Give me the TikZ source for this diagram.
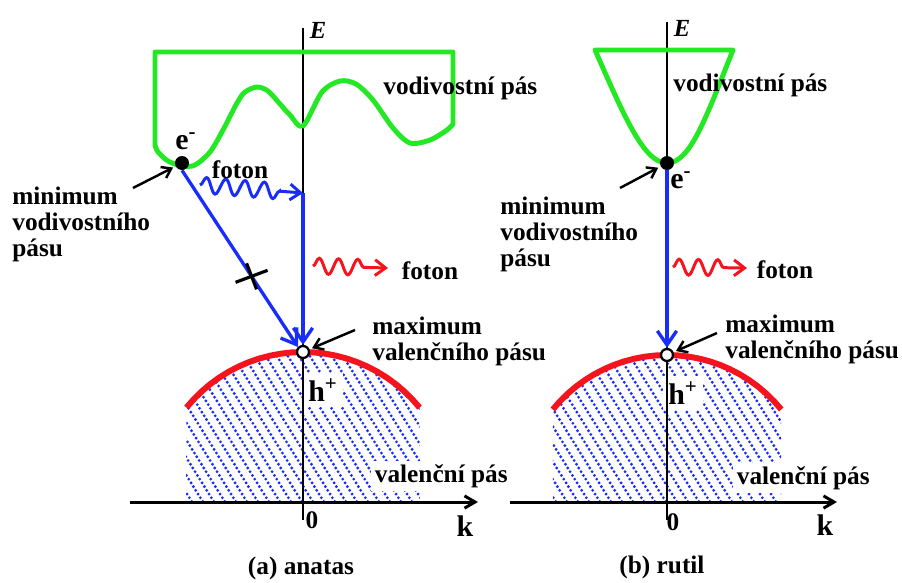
\documentclass[tikz,border=0pt]{standalone}
\usepackage{fontspec}
\setmainfont{Liberation Serif}
\usepackage{tikz}
\usetikzlibrary{arrows.meta,calc,decorations.pathmorphing}

\definecolor{bandgreen}{RGB}{35,232,35}
\definecolor{trblue}{RGB}{25,45,250}
\definecolor{vbred}{RGB}{245,20,30}

\begin{document}
\begin{tikzpicture}[
    x=0.02cm, y=-0.02cm,
    lbl/.style={font=\fontsize{14.4}{14.8}\selectfont\bfseries, inner sep=0pt},
    txt/.style={lbl, align=left, anchor=west},
    big/.style={font=\fontsize{17}{17}\selectfont\bfseries, inner sep=0pt},
    elabel/.style={font=\fontsize{14}{14}\selectfont\bfseries\itshape, inner sep=0pt},
    eaxis/.style={line width=1.1pt},
    kaxis/.style={line width=1.7pt, -{Straight Barb[length=6pt,width=7pt]}},
    cband/.style={draw=bandgreen, line width=2.8pt, line join=round},
    vband/.style={draw=vbred, line width=3.4pt},
    hatch/.style={draw=trblue, line width=1.8pt, line cap=round, dash pattern=on 0pt off 2.5pt},
    trans/.style={draw=trblue, line width=1.9pt, -{Straight Barb[length=8pt,width=11pt]}},
    photon/.style={line width=1.7pt, -{Straight Barb[length=6pt,width=9pt]},
                   decorate, decoration={snake, amplitude=4.5pt,
                   segment length=11pt, post length=10pt}},
    ptr/.style={line width=1.4pt, -{Straight Barb[length=5pt,width=7pt]}, shorten >=1.5pt},
    elec/.style={circle, fill=black, minimum size=0.28cm, inner sep=0pt},
    hole/.style={circle, draw=black, fill=white, line width=1.3pt,
                 minimum size=0.24cm, inner sep=0pt},
]
\useasboundingbox (0,0) rectangle (902,582);

%% ─── (a) anatas: valence band hatching ─────────────────────────────────────
\begin{scope}
  \clip (186,502) -- plot[domain=141:39, variable=\a]
        ({303+150*cos(\a)},{502-150*sin(\a)}) -- (420,502) -- cycle;
  \foreach \i in {-22,...,12}
    \draw[hatch] ({303+11*\i},345) -- ++(103,165);
\end{scope}
\node[big, fill=white, inner sep=3pt] (hpA) at (323,390) {h\textsuperscript{+}};
\node[txt, fill=white, inner sep=2pt] (vbA) at (371,476) {valenční pás};

%% ─── (a) axes ───────────────────────────────────────────────────────────────
\draw[eaxis] (303,28) -- (303,520);
\draw[kaxis] (130,502) -- (478,502);

%% ─── (a) bands ──────────────────────────────────────────────────────────────
\draw[cband] (155,52) -- (453,52) -- (453,124) -- plot[smooth] coordinates {
    (453,124) (447,130) (430,140) (410,143) (393,128) (373,100) (356,84)
    (340,81) (322,92) (303,126) (290,115) (280,104) (268,91) (257,87)
    (245,92) (237,103) (223,130) (210,152) (195,165) (182,166) (168,161)
    (158,152) (155,145)} -- cycle;
\draw[vband] plot[domain=141:39, variable=\a] ({303+150*cos(\a)},{502-150*sin(\a)});

%% ─── (a) electron, hole, transitions ────────────────────────────────────────
\node[elec] (eA) at (182,163) {};
\node[hole] (hA) at (303,352) {};
\node[big] (eAl) at (186,141) {e\textsuperscript{-}};

\coordinate (vA) at (303,193);
\coordinate (wA) at (200,185);
\coordinate (rA) at (313,266);
\coordinate (rAe) at (388,268);
\coordinate (xA) at ($(eA.south)!0.6!(hA.north west)$);

\draw[trans] (eA.south) -- (hA.north west);
\draw[trans] (vA) -- (hA);
\draw[photon, draw=trblue] (wA) -- (vA);
\draw[photon, draw=vbred] (rA) -- (rAe);
\draw[line width=1.8pt] ($(xA)+(-16,6)$) -- ($(xA)+(16,-6)$);
\draw[line width=1.8pt] ($(xA)+(-5,-13)$) -- ($(xA)+(5,13)$);

%% ─── (a) labels ─────────────────────────────────────────────────────────────
\node[elabel] (EA) at (318,30) {E};
\node[txt] (cbA) at (383,88) {vodivostní pás};
\node[lbl] (fBA) at (240,170) {foton};
\node[lbl] (fRA) at (430,271) {foton};
\node[txt] (minA) at (12,224) {minimum\\vodivostního\\pásu};
\node[txt] (maxA) at (372,341) {maximum\\valenčního pásu};
\node[lbl] (zA) at (312,520) {0};
\node[big] (kA) at (465,526) {k};
\node[lbl] (capA) at (301,568) {(a) anatas};

\coordinate (pA) at (133,188);
\coordinate (qA) at (355,330);
\draw[ptr] (pA) -- (eA);
\draw[ptr] (qA) -- (hA);

%% ─── (b) rutil: valence band hatching ──────────────────────────────────────
\begin{scope}
  \clip (553,502) -- plot[domain=141:39, variable=\a]
        ({667+147*cos(\a)},{502-147*sin(\a)}) -- (781,502) -- cycle;
  \foreach \i in {-22,...,12}
    \draw[hatch] ({667+11*\i},345) -- ++(103,165);
\end{scope}
\node[big, fill=white, inner sep=3pt] (hpB) at (683,393) {h\textsuperscript{+}};
\node[txt, fill=white, inner sep=2pt] (vbB) at (733,478) {valenční pás};

%% ─── (b) axes ───────────────────────────────────────────────────────────────
\draw[eaxis] (667,22) -- (667,520);
\draw[kaxis] (510,502) -- (837,502);

%% ─── (b) bands ──────────────────────────────────────────────────────────────
\draw[cband] (595,50) -- (733,50) .. controls (705,120) and (690,163) .. (667,163)
    .. controls (644,163) and (625,118) .. (595,50) -- cycle;
\draw[vband] plot[domain=141:39, variable=\a] ({667+147*cos(\a)},{502-147*sin(\a)});

%% ─── (b) electron, hole, transition ─────────────────────────────────────────
\node[elec] (eB) at (667,163) {};
\node[hole] (hB) at (667,355) {};
\node[big] (eBl) at (681,180) {e\textsuperscript{-}};

\coordinate (rB) at (673,267);
\coordinate (rBe) at (747,268);

\draw[trans] (eB) -- (hB);
\draw[photon, draw=vbred] (rB) -- (rBe);

%% ─── (b) labels ─────────────────────────────────────────────────────────────
\node[elabel] (EB) at (682,28) {E};
\node[txt] (cbB) at (673,85) {vodivostní pás};
\node[lbl] (fRB) at (785,270) {foton};
\node[txt] (minB) at (500,234) {minimum\\vodivostního\\pásu};
\node[txt] (maxB) at (725,339) {maximum\\valenčního pásu};
\node[lbl] (zB) at (673,522) {0};
\node[big] (kB) at (825,525) {k};
\node[lbl] (capB) at (662,567) {(b) rutil};

\coordinate (pB) at (620,188);
\coordinate (qB) at (717,333);
\draw[ptr] (pB) -- (eB);
\draw[ptr] (qB) -- (hB);

\end{tikzpicture}
\end{document}
